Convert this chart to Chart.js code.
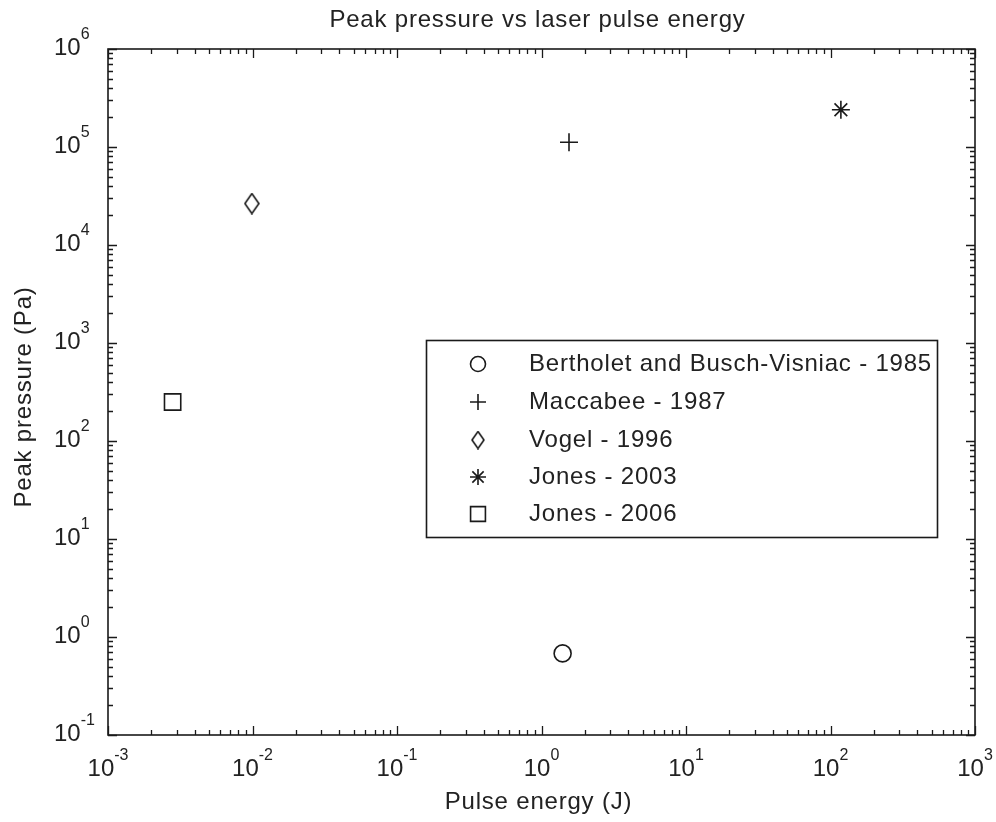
<!DOCTYPE html>
<html>
<head>
<meta charset="utf-8">
<title>Peak pressure vs laser pulse energy</title>
<script src="https://cdn.jsdelivr.net/npm/chart.js@4.4.1/dist/chart.umd.min.js"></script>
<style>
  html, body { margin: 0; padding: 0; background: #fff; }
</style>
</head>
<body>
<canvas id="chart" width="996" height="822"></canvas>
<script>
// Values (one point per study)
const seriesNames = ["Bertholet and Busch-Visniac - 1985", "Maccabee - 1987", "Vogel - 1996", "Jones - 2003", "Jones - 2006"];
const pulseEnergy = [1.4, 1.55, 0.0099, 118, 0.0028];      // J
const peakPressure = [0.68, 1.12e5, 2.65e4, 2.4e5, 250];   // Pa
const markerNames = ["circle", "cross", "diamond", "star", "rect"];

// Axis decades
const xExponents = [-3, -2, -1, 0, 1, 2, 3];
const yExponents = [-1, 0, 1, 2, 3, 4, 5, 6];

const ink = "#1a1a1a";
const textInk = "#222";
const fontFamily = "'Liberation Sans', Arial, sans-serif";
const spacing = "0.8px";

// Diamond in MATLAB is a bit taller than wide, so draw it on a small canvas
function makeDiamond(w, h) {
    const c = document.createElement("canvas");
    c.width = w;
    c.height = h;
    const g = c.getContext("2d");
    g.strokeStyle = ink;
    g.lineWidth = 1.6;
    g.beginPath();
    g.moveTo(w / 2, 1);
    g.lineTo(w - 1, h / 2);
    g.lineTo(w / 2, h - 1);
    g.lineTo(1, h / 2);
    g.closePath();
    g.stroke();
    return c;
}

const diamondImg = makeDiamond(16, 22);
const legendDiamondImg = makeDiamond(14, 19);

function pointStyleFor(name) {
    return name === "diamond" ? diamondImg : name;
}

function radiusFor(name) {
    if (name === "rect") return 11.5;
    if (name === "circle") return 8.5;
    return 9;
}

const datasets = seriesNames.map((name, i) => ({
    label: name,
    data: [{ x: pulseEnergy[i], y: peakPressure[i] }],
    pointStyle: pointStyleFor(markerNames[i]),
    pointRadius: radiusFor(markerNames[i]),
    pointBorderWidth: 1.6,
    pointBorderColor: ink,
    pointBackgroundColor: "rgba(0,0,0,0)",
}));

// Draw "10" with a raised exponent
function drawPower(ctx, exp, x, y, align) {
    const base = "10";
    const sup = String(exp);
    ctx.letterSpacing = "0px";
    ctx.font = "24px " + fontFamily;
    const wb = ctx.measureText(base).width;
    ctx.font = "16px " + fontFamily;
    const ws = ctx.measureText(sup).width;
    let left = x;
    if (align === "center") left = x - (wb + ws) / 2;
    ctx.textAlign = "left";
    ctx.textBaseline = "middle";
    ctx.font = "24px " + fontFamily;
    ctx.fillText(base, left, y);
    ctx.font = "16px " + fontFamily;
    ctx.fillText(sup, left + wb, y - 13);
}

const matlabAxes = {
    id: "matlabAxes",
    afterDraw(chart) {
        const ctx = chart.ctx;
        const xs = chart.scales.x;
        const ys = chart.scales.y;
        const a = chart.chartArea;
        ctx.save();
        ctx.fillStyle = ink;
        ctx.strokeStyle = ink;

        // frame
        ctx.lineWidth = 1.6;
        ctx.strokeRect(a.left, a.top, a.right - a.left, a.bottom - a.top);

        // inward ticks on all four sides
        ctx.lineWidth = 1.3;
        ctx.beginPath();
        xExponents.forEach((e, k) => {
            for (let m = 1; m <= 9; m++) {
                if (m > 1 && k === xExponents.length - 1) break;
                const px = Math.round(xs.getPixelForValue(m * Math.pow(10, e))) + 0.5;
                const len = m === 1 ? 9 : 5;
                ctx.moveTo(px, a.bottom);
                ctx.lineTo(px, a.bottom - len);
                ctx.moveTo(px, a.top);
                ctx.lineTo(px, a.top + len);
            }
        });
        yExponents.forEach((e, k) => {
            for (let m = 1; m <= 9; m++) {
                if (m > 1 && k === yExponents.length - 1) break;
                const py = Math.round(ys.getPixelForValue(m * Math.pow(10, e))) + 0.5;
                const len = m === 1 ? 9 : 5;
                ctx.moveTo(a.left, py);
                ctx.lineTo(a.left + len, py);
                ctx.moveTo(a.right, py);
                ctx.lineTo(a.right - len, py);
            }
        });
        ctx.stroke();

        // tick labels
        ctx.fillStyle = textInk;
        xExponents.forEach(e => {
            drawPower(ctx, e, xs.getPixelForValue(Math.pow(10, e)), a.bottom + 34, "center");
        });
        yExponents.forEach(e => {
            drawPower(ctx, e, 54, ys.getPixelForValue(Math.pow(10, e)) - 1, "left");
        });

        // title and axis labels (MATLAB screen font is a touch wider)
        ctx.letterSpacing = spacing;
        ctx.textAlign = "center";
        ctx.textBaseline = "middle";
        ctx.font = "24px " + fontFamily;
        ctx.fillText("Peak pressure vs laser pulse energy", (a.left + a.right) / 2 - 4, 20);
        ctx.fillText("Pulse energy (J)", (a.left + a.right) / 2 - 3, 802);
        ctx.save();
        ctx.translate(24, (a.top + a.bottom) / 2 + 5);
        ctx.rotate(-Math.PI / 2);
        ctx.fillText("Peak pressure (Pa)", 0, 0);
        ctx.restore();

        // legend box
        const box = { left: 426.5, top: 340.5, right: 937.5, bottom: 537.5 };
        ctx.fillStyle = "#fff";
        ctx.fillRect(box.left, box.top, box.right - box.left, box.bottom - box.top);
        ctx.lineWidth = 1.6;
        ctx.strokeStyle = ink;
        ctx.strokeRect(box.left, box.top, box.right - box.left, box.bottom - box.top);
        const rowY = [364, 402, 440, 477, 514];
        chart.data.datasets.forEach((ds, i) => {
            ctx.save();
            ctx.strokeStyle = ink;
            ctx.fillStyle = "rgba(0,0,0,0)";
            ctx.lineWidth = 1.6;
            Chart.helpers.drawPoint(ctx, {
                pointStyle: markerNames[i] === "diamond" ? legendDiamondImg : ds.pointStyle,
                radius: markerNames[i] === "rect" ? 10.5 : (markerNames[i] === "circle" ? 7.5 : 8),
                rotation: 0,
                borderWidth: 1.6,
            }, 478, rowY[i]);
            ctx.restore();
            ctx.fillStyle = textInk;
            ctx.textAlign = "left";
            ctx.textBaseline = "middle";
            ctx.font = "24px " + fontFamily;
            ctx.letterSpacing = spacing;
            ctx.fillText(ds.label, 529, rowY[i]);
        });
        ctx.restore();
    }
};

new Chart(document.getElementById("chart"), {
    type: "scatter",
    data: { datasets: datasets },
    plugins: [matlabAxes],
    options: {
        responsive: false,
        animation: false,
        layout: { padding: { left: 108, right: 21, top: 49, bottom: 87 } },
        plugins: {
            legend: { display: false },
            tooltip: { enabled: false },
            title: { display: false },
        },
        scales: {
            x: { type: "logarithmic", min: 1e-3, max: 1e3, display: false },
            y: { type: "logarithmic", min: 1e-1, max: 1e6, display: false },
        },
    },
});
</script>
</body>
</html>
